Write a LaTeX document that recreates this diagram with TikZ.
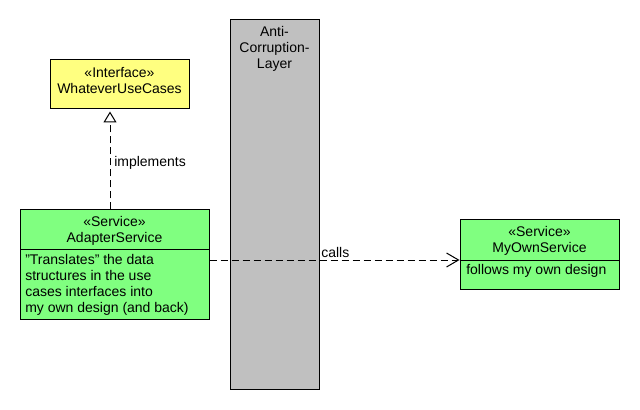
\documentclass[tikz,border=0pt]{standalone}
\usepackage{fontspec}
\setmainfont{Liberation Sans}
\usetikzlibrary{fit,arrows.meta}
\definecolor{ifaceyellow}{HTML}{FFFF80}
\definecolor{servgreen}{HTML}{80FF80}
\definecolor{aclgray}{HTML}{C0C0C0}
\begin{document}
\begin{tikzpicture}[x=0.75pt,y=-0.75pt,
  font=\fontsize{10.5pt}{12pt}\selectfont,
  umlbox/.style={draw=black, line width=0.75pt, inner sep=0pt},
  txt/.style={inner sep=0pt, text=black},
  depline/.style={line width=0.75pt, dash pattern=on 5.25pt off 3pt}]
\useasboundingbox (0,0) rectangle (640,410);
% Anti-Corruption-Layer
\node[umlbox, fill=aclgray, fit={(230,20) (319,389)}] (acl) {};
\node[txt, align=center, anchor=north] (acltxt) at (274.5,26) {Anti-\\Corruption-\\Layer};
% Interface
\node[umlbox, fill=ifaceyellow, fit={(50,60) (189,109)}] (iface) {};
\node[txt, align=center] (ifacetxt) at (119.5,81) {«Interface»\\WhateverUseCases};
% AdapterService
\node[umlbox, fill=servgreen, fit={(20,210) (209,319)}] (adapter) {};
\node[txt, align=center] (adaptertxt) at (114.5,231) {«Service»\\AdapterService};
\draw[line width=0.75pt] (20,249) -- (209,249);
\node[txt, align=left, anchor=west] (adapterbody) at (25,285) {"Translates" the data\\structures in the use\\cases interfaces into\\my own design (and back)};
% MyOwnService
\node[umlbox, fill=servgreen, fit={(460,220) (619,289)}] (own) {};
\node[txt, align=center] (owntxt) at (539.5,241) {«Service»\\MyOwnService};
\draw[line width=0.75pt] (460,260) -- (619,260);
\node[txt, anchor=west] (ownbody) at (466,271) {follows my own design};
% connectors
\coordinate (implx) at (110,0);
\draw[depline, -{Triangle[open, length=8.25pt, width=9.75pt, line width=0.75pt]}]
  (implx |- adapter.north) -- ([yshift=-1.5pt]implx |- iface.south);
\node[txt, anchor=west] (impllbl) at (114,163) {implements};
\coordinate (callsy) at (0,260);
\draw[depline, -{Straight Barb[length=9pt, width=10.5pt, line width=0.75pt]}]
  (adapter.east |- callsy) -- (own.west |- callsy);
\node[txt, anchor=west] (callslbl) at (321,252) {calls};
\end{tikzpicture}
\end{document}
